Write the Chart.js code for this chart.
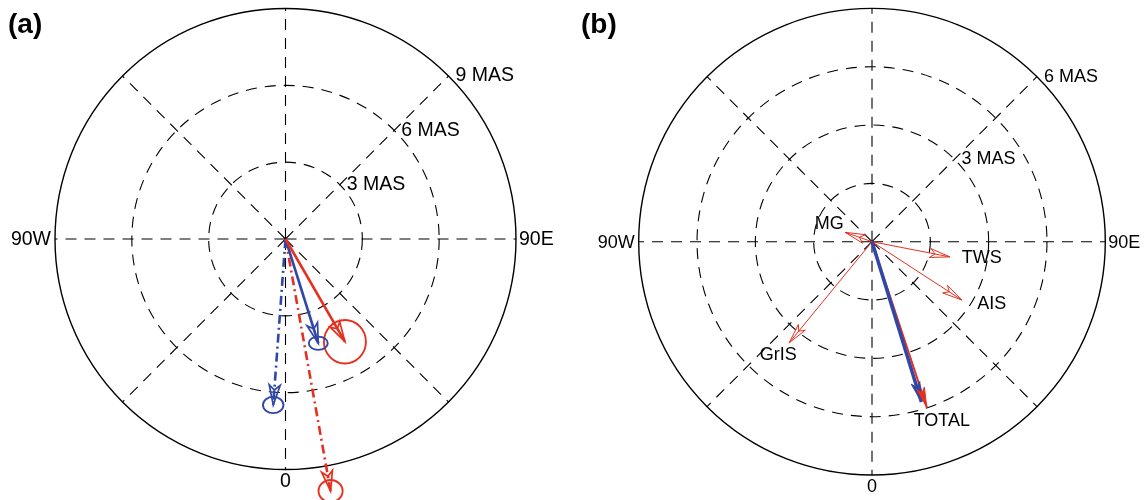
<!DOCTYPE html>
<html>
<head>
<meta charset="utf-8">
<script src="https://cdn.jsdelivr.net/npm/chart.js@4.4.1/dist/chart.umd.min.js"></script>
<style>
    html, body { margin: 0; padding: 0; background: #fff; }
    #wrap { position: relative; width: 1146px; height: 500px; }
    .panel { position: absolute; top: 0; width: 573px; height: 500px; }
</style>
</head>
<body>
<div id="wrap">
    <div class="panel" style="left:0"><canvas id="polarA" width="573" height="500"></canvas></div>
    <div class="panel" style="left:573px"><canvas id="polarB" width="573" height="500"></canvas></div>
</div>
<script>
/* -------------------------------------------------------
   Data (MAS, x = east, y = north)
------------------------------------------------------- */
const ringsA = [3, 6, 9];
const ringLabelsA = ["3 MAS", "6 MAS", "9 MAS"];
const ringsB = [1.5, 3, 4.5, 6];
const ringLabelsB = ["", "3 MAS", "", "6 MAS"];
const spokeAngles = [0, 45, 90, 135, 180, 225, 270, 315];
const compassLabels = ["90W", "90E", "0"];

// panel (a): four vectors with error ellipses
const tipsAx = [2.32, 1.28, -0.48, 1.76];
const tipsAy = [-4.01, -4.07, -6.48, -9.84];
const errAx = [0.82, 0.37, 0.40, 0.47];
const errAy = [0.85, 0.26, 0.32, 0.43];

// panel (b): contributions and totals
const componentsB = ["MG", "TWS", "AIS", "GrIS"];
const compBx = [-0.69, 2.00, 2.31, -2.13];
const compBy = [0.24, -0.39, -1.50, -2.60];
const totalLabel = "TOTAL";
const totalBx = [1.41, 1.27];   // red (sum), blue
const totalBy = [-4.26, -4.12];

/* -------------------------------------------------------
   Styles / layout
------------------------------------------------------- */
const RED = "#e5301f";
const BLUE = "#2f47a8";
const FONT = "'Liberation Sans', Arial, Helvetica, sans-serif";

const styleA = [
    { color: RED,  dash: [],            width: 2.6 },
    { color: BLUE, dash: [],            width: 2.6 },
    { color: BLUE, dash: [9, 4, 2, 4],  width: 2.6 },
    { color: RED,  dash: [9, 4, 2, 4],  width: 2.6 }
];
// label centre offsets from arrow tip, px
const labelOffsetB = [[-16, -8], [32, 1], [30, 4], [-11, 12]];
const totalOffset = [15, 14];

/* -------------------------------------------------------
   Plugins: polar grid, arrow heads, ellipses, labels
------------------------------------------------------- */
const polarGrid = {
    id: "polarGrid",
    beforeDatasetsDraw(chart, args, opts) {
        const { ctx, scales: { x, y } } = chart;
        const cx = x.getPixelForValue(0), cy = y.getPixelForValue(0);
        const unit = x.getPixelForValue(1) - cx;
        const rings = opts.rings;
        const rMax = rings[rings.length - 1] * unit;

        ctx.save();
        ctx.strokeStyle = "#000";
        ctx.lineWidth = 1.1;
        ctx.setLineDash([11, 8]);
        spokeAngles.forEach(a => {
            const t = a * Math.PI / 180;
            ctx.beginPath();
            ctx.moveTo(cx, cy);
            ctx.lineTo(cx + rMax * Math.sin(t), cy + rMax * Math.cos(t));
            ctx.stroke();
        });
        rings.forEach((r, i) => {
            const last = i === rings.length - 1;
            ctx.setLineDash(last ? [] : [11, 8]);
            ctx.lineWidth = last ? 1.4 : 1.1;
            ctx.beginPath();
            ctx.arc(cx, cy, r * unit, 0, 2 * Math.PI);
            ctx.stroke();
        });

        ctx.fillStyle = "#000";
        ctx.font = `${opts.fontSize}px ${FONT}`;
        ctx.textBaseline = "middle";
        ctx.textAlign = "left";
        rings.forEach((r, i) => {
            const lbl = opts.ringLabels[i];
            if (!lbl) return;
            const d = r * unit * Math.SQRT1_2;
            ctx.fillText(lbl, cx + d + 7, cy - d);
        });
        ctx.textAlign = "right";
        ctx.fillText(compassLabels[0], cx - rMax - 4, cy + 1);
        ctx.textAlign = "left";
        ctx.fillText(compassLabels[1], cx + rMax + 3, cy + 1);
        ctx.textAlign = "center";
        ctx.fillText(compassLabels[2], cx, cy + rMax + 12);

        ctx.font = `bold 28px ${FONT}`;
        ctx.textAlign = "left";
        ctx.textBaseline = "top";
        ctx.fillText(opts.title, 8, 11);
        ctx.restore();
    }
};

const arrowDecor = {
    id: "arrowDecor",
    afterDatasetsDraw(chart) {
        const { ctx, scales: { x, y } } = chart;
        const unit = x.getPixelForValue(1) - x.getPixelForValue(0);
        chart.data.datasets.forEach((ds, i) => {
            const pts = chart.getDatasetMeta(i).data;
            const p0 = pts[0], p1 = pts[1];
            const ang = Math.atan2(p1.y - p0.y, p1.x - p0.x);
            const ux = Math.cos(ang), uy = Math.sin(ang);
            const h = ds.head;
            ctx.save();
            ctx.strokeStyle = ds.borderColor;
            ctx.fillStyle = ds.borderColor;
            ctx.lineWidth = h.lw;
            ctx.lineJoin = "miter";
            ctx.setLineDash([]);
            const bx = p1.x - ux * h.len, by = p1.y - uy * h.len;
            const nx = p1.x - ux * h.len * 0.75, ny = p1.y - uy * h.len * 0.75;
            ctx.beginPath();
            ctx.moveTo(p1.x, p1.y);
            ctx.lineTo(bx - uy * h.half, by + ux * h.half);
            ctx.lineTo(nx, ny);
            ctx.lineTo(bx + uy * h.half, by - ux * h.half);
            ctx.closePath();
            if (h.fill) ctx.fill();
            ctx.stroke();

            if (ds.err) {
                ctx.lineWidth = 1.9;
                ctx.beginPath();
                ctx.ellipse(p1.x, p1.y, ds.err[0] * unit, ds.err[1] * unit, 0, 0, 2 * Math.PI);
                ctx.stroke();
            }
            if (ds.tag) {
                ctx.fillStyle = "#000";
                ctx.font = `18px ${FONT}`;
                ctx.textAlign = "center";
                ctx.textBaseline = "middle";
                ctx.fillText(ds.tag, p1.x + ds.tagOffset[0], p1.y + ds.tagOffset[1]);
            }
            ctx.restore();
        });
    }
};

/* -------------------------------------------------------
   Chart builder
------------------------------------------------------- */
function buildPolar(canvasId, datasets, centre, unitPx, gridOpts) {
    const el = document.getElementById(canvasId);
    const W = el.width, H = el.height;
    return new Chart(el, {
        type: "scatter",
        data: { datasets },
        options: {
            responsive: false,
            animation: false,
            layout: { padding: 0 },
            plugins: {
                legend: { display: false },
                tooltip: { enabled: false },
                polarGrid: gridOpts
            },
            scales: {
                x: { type: "linear", display: false, bounds: "data",
                     min: -centre[0] / unitPx, max: (W - centre[0]) / unitPx },
                y: { type: "linear", display: false, bounds: "data",
                     min: -(H - centre[1]) / unitPx, max: centre[1] / unitPx }
            }
        },
        plugins: [polarGrid, arrowDecor]
    });
}

function arrowSet(tx, ty, color, width, dash, head, extra) {
    return Object.assign({
        data: [{ x: 0, y: 0 }, { x: tx, y: ty }],
        showLine: true,
        borderColor: color,
        borderWidth: width,
        borderDash: dash,
        pointRadius: 0,
        clip: false,
        head
    }, extra || {});
}

// ---- panel (a) ----
const dsA = tipsAx.map((tx, i) => arrowSet(tx, tipsAy[i], styleA[i].color, styleA[i].width,
    styleA[i].dash, { len: 20, half: 5.5, lw: 1.7 }, { err: [errAx[i], errAy[i]] }));

buildPolar("polarA", dsA, [285.5, 239], 230.5 / 9,
    { rings: ringsA, ringLabels: ringLabelsA, fontSize: 19.5, title: "(a)" });

// ---- panel (b) ----
const dsB = componentsB.map((name, i) => arrowSet(compBx[i], compBy[i], RED, 1, [],
    { len: 20, half: 4.5, lw: 1 }, { tag: name, tagOffset: labelOffsetB[i], order: 3 }));
dsB.push(arrowSet(totalBx[1], totalBy[1], BLUE, 3.5, [],
    { len: 20, half: 4.5, lw: 1, fill: true }, { order: 1 }));
dsB.push(arrowSet(totalBx[0], totalBy[0], RED, 2, [],
    { len: 20, half: 4, lw: 1, fill: true }, { tag: totalLabel, tagOffset: totalOffset, order: 2 }));

buildPolar("polarB", dsB, [299, 241.7], 233.3 / 6,
    { rings: ringsB, ringLabels: ringLabelsB, fontSize: 18, title: "(b)" });
</script>
</body>
</html>
